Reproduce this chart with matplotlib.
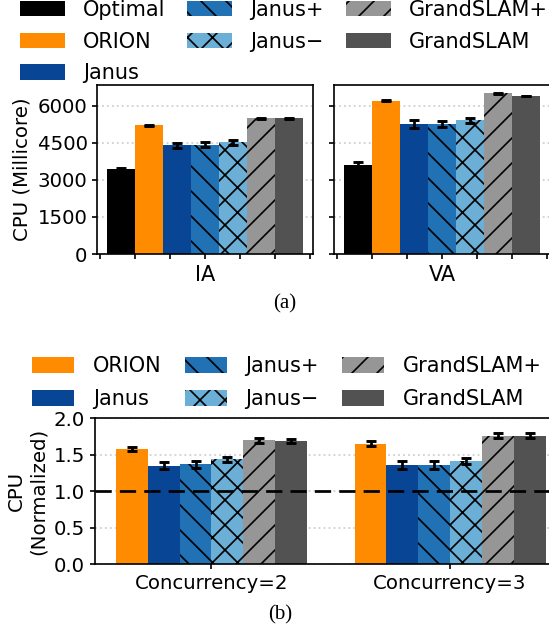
import numpy as np
import matplotlib
matplotlib.use('Agg')
import matplotlib.pyplot as plt
from matplotlib.patches import Patch

plt.rcParams['font.family'] = ['DejaVu Sans']
plt.rcParams['font.size'] = 10
plt.rcParams['hatch.linewidth'] = 0.8

W, H, DPI = 549, 629, 150

# (a) absolute CPU usage per application
methods_a = ['Optimal', 'ORION', 'Janus', 'Janus+', 'Janus\u2212', 'GrandSLAM+', 'GrandSLAM']
ia_vals = [3430, 5220, 4410, 4430, 4530, 5490, 5490]
ia_err = [70, 20, 100, 100, 100, 15, 15]
va_vals = [3600, 6200, 5260, 5260, 5410, 6510, 6400]
va_err = [110, 20, 160, 120, 100, 15, 15]
apps = ['IA', 'VA']

# (b) normalized CPU vs concurrency
methods_b = ['ORION', 'Janus', 'Janus+', 'Janus\u2212', 'GrandSLAM+', 'GrandSLAM']
conc_labels = ['Concurrency=2', 'Concurrency=3']
conc2_vals = [1.58, 1.35, 1.37, 1.44, 1.70, 1.69]
conc2_err = [0.03, 0.05, 0.045, 0.035, 0.035, 0.03]
conc3_vals = [1.65, 1.36, 1.36, 1.41, 1.76, 1.76]
conc3_err = [0.035, 0.05, 0.05, 0.04, 0.035, 0.035]

style = {
    'Optimal': ('#000000', ''),
    'ORION': ('#ff8c00', ''),
    'Janus': ('#084594', ''),
    'Janus+': ('#2171b5', '\\\\'),
    'Janus\u2212': ('#6baed6', 'xx'),
    'GrandSLAM+': ('#969696', '//'),
    'GrandSLAM': ('#525252', ''),
}

ekw = dict(elinewidth=1.3, capsize=2.4, capthick=1.4, ecolor='black')


def px_axes(fig, x0, x1, y0, y1):
    # pixel box (top-left origin) -> figure axes
    return fig.add_axes([x0 / W, 1 - y1 / H, (x1 - x0) / W, (y1 - y0) / H])


def style_axes(ax):
    ax.grid(axis='y', linestyle=':', color='lightgrey', linewidth=0.9)
    ax.set_axisbelow(True)
    ax.tick_params(length=2.5, width=0.8, pad=2, labelsize=9.5)
    for s in ax.spines.values():
        s.set_linewidth(0.8)


fig = plt.figure(figsize=(W / DPI, H / DPI), dpi=DPI)

# ---- panel (a)
ax1 = px_axes(fig, 97, 313, 85, 254)
ax2 = px_axes(fig, 334, 550, 85, 254)
w = 0.08
for ax, vals, errs, app in [(ax1, ia_vals, ia_err, 'IA'), (ax2, va_vals, va_err, 'VA')]:
    for i, m in enumerate(methods_a):
        c, h = style[m]
        ax.bar((i - 3) * w, vals[i], w, yerr=errs[i], color=c, hatch=h,
               edgecolor='black', linewidth=0, error_kw=ekw)
    ax.set_ylim(0, 6840)
    ax.set_yticks([0, 1500, 3000, 4500, 6000])
    ax.set_xticks([-0.3, -0.2, -0.1, 0, 0.1, 0.2, 0.3])
    ax.set_xticklabels([])
    ax.set_xlabel(app, labelpad=1)
    style_axes(ax)
ax2.set_yticklabels([])
ax1.set_ylabel('CPU (Millicore)', labelpad=3, fontsize=9.5)

handles_a = [Patch(facecolor=style[m][0], hatch=style[m][1], edgecolor='black',
                   linewidth=0, label=m) for m in methods_a]
fig.legend(handles=handles_a, ncol=3, frameon=False, loc='upper left',
           bbox_to_anchor=(20 / W, 1.0), handlelength=2.16, handleheight=0.75,
           handletextpad=0.87, columnspacing=1.04, labelspacing=0.56,
           borderaxespad=0, borderpad=0)
fig.text(285 / W, 1 - 304 / H, '(a)', family='Liberation Serif', fontsize=10,
         ha='center', va='center')

# ---- panel (b)
ax3 = px_axes(fig, 94.5, 567, 418.3, 564.3)
wb = 0.8 / 6
x = np.arange(len(conc_labels))
for i, m in enumerate(methods_b):
    c, h = style[m]
    ax3.bar(x + (i - 2.5) * wb, [conc2_vals[i], conc3_vals[i]], wb,
            yerr=[conc2_err[i], conc3_err[i]], color=c, hatch=h,
            edgecolor='black', linewidth=0, error_kw=ekw)
ax3.axhline(1.0, color='black', linestyle=(0, (6, 3)), linewidth=1.3)
ax3.set_xlim(-0.49, 1.49)
ax3.set_ylim(0, 2.0)
ax3.set_yticks([0, 0.5, 1.0, 1.5, 2.0])
ax3.set_yticklabels(['0.0', '0.5', '1.0', '1.5', '2.0'])
ax3.set_xticks(x)
ax3.set_xticklabels(conc_labels)
ax3.set_ylabel('CPU\n(Normalized)', labelpad=3, fontsize=9.5)
style_axes(ax3)

handles_b = [Patch(facecolor=style[m][0], hatch=style[m][1], edgecolor='black',
                   linewidth=0, label=m) for m in methods_b]
fig.legend(handles=handles_b, ncol=3, frameon=False, loc='upper left',
           bbox_to_anchor=(32 / W, 1 - 356 / H), handlelength=2.02, handleheight=0.8,
           handletextpad=0.91, columnspacing=1.1, labelspacing=0.62,
           borderaxespad=0, borderpad=0)
fig.text(280 / W, 1 - 615 / H, '(b)', family='Liberation Serif', fontsize=10,
         ha='center', va='center')

fig.savefig('out.png', dpi=DPI)
